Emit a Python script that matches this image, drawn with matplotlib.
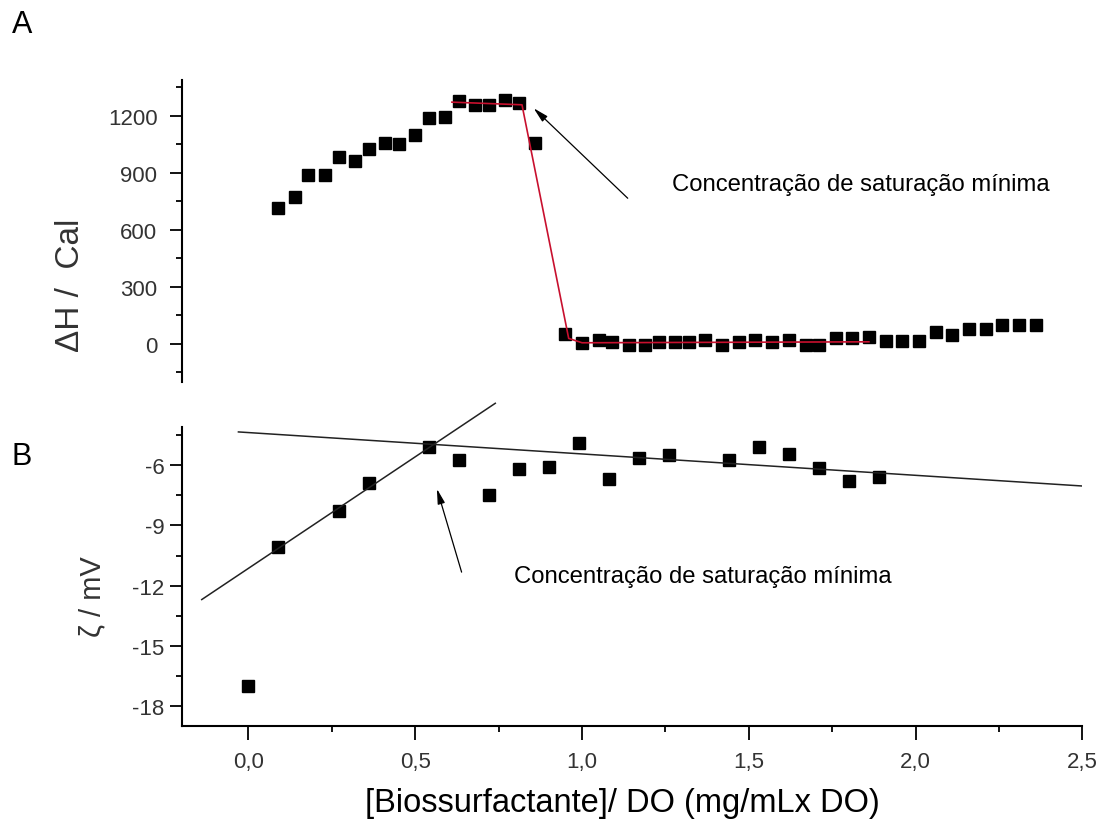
import numpy as np
import matplotlib.pyplot as plt
from matplotlib.ticker import MultipleLocator

plt.rcParams['font.family'] = ['Liberation Sans', 'DejaVu Sans']
plt.rcParams['axes.unicode_minus'] = False

# painel A: calor de adsorcao
xA = [0.09, 0.14, 0.18, 0.23, 0.27, 0.32, 0.36, 0.41, 0.45, 0.50, 0.54, 0.59,
      0.63, 0.68, 0.72, 0.77, 0.81, 0.86,
      0.95, 1.00, 1.05, 1.09, 1.14, 1.19, 1.23, 1.28, 1.32, 1.37, 1.42, 1.47,
      1.52, 1.57, 1.62, 1.67, 1.71, 1.76, 1.81, 1.86, 1.91, 1.96, 2.01, 2.06,
      2.11, 2.16, 2.21, 2.26, 2.31, 2.36]
dH = [713, 771, 889, 889, 983, 962, 1023, 1059, 1050, 1101, 1186, 1195,
      1279, 1256, 1256, 1283, 1270, 1059,
      50, 5, 18, 8, -6, -6, 9, 9, 9, 22, -6, 8,
      22, 9, 22, -8, -8, 28, 30, 38, 15, 15, 15, 62,
      48, 79, 79, 101, 99, 101]
xfitA = [0.61, 0.82, 0.96, 1.00, 1.86]
yfitA = [1272, 1258, 28, 5, 10]

# painel B: potencial zeta
xB = [0.0, 0.09, 0.27, 0.36, 0.54, 0.63, 0.72, 0.81, 0.90, 0.99, 1.08, 1.17,
      1.26, 1.44, 1.53, 1.62, 1.71, 1.80, 1.89]
zeta = [-17.0, -10.1, -8.3, -6.9, -5.1, -5.75, -7.5, -6.2, -6.1, -4.9, -6.7,
        -5.65, -5.5, -5.75, -5.1, -5.45, -6.15, -6.8, -6.6]
xreta1 = [-0.14, 0.74]
yreta1 = [-12.7, -2.9]
xreta2 = [-0.03, 2.5]
yreta2 = [-4.33, -7.03]

xticks = [0.0, 0.5, 1.0, 1.5, 2.0, 2.5]
xticklabels = ['0,0', '0,5', '1,0', '1,5', '2,0', '2,5']
texto = 'Concentração de saturação mínima'

fig = plt.figure(figsize=(11, 8.28), dpi=100)
ax1 = fig.add_axes([0.1652, 0.5378, 0.8188, 0.3647])
ax2 = fig.add_axes([0.1652, 0.1223, 0.8188, 0.3604])

seta = dict(arrowstyle='-|>,head_length=0.9,head_width=0.22', color='k',
            lw=0.9, shrinkA=0, shrinkB=0)

# ---- A
ax1.plot(xA, dH, 's', color='k', ms=8.5)
ax1.plot(xfitA, yfitA, '-', color='#c8102e', lw=1.2)
ax1.set_xlim(-0.2, 2.5)
ax1.set_ylim(-200, 1390)
ax1.set_yticks([0, 300, 600, 900, 1200])
ax1.yaxis.set_minor_locator(MultipleLocator(150))
for s in ['top', 'right', 'bottom']:
    ax1.spines[s].set_visible(False)
ax1.spines['left'].set_linewidth(1.5)
ax1.set_xticks([])
ax1.tick_params(axis='y', which='major', direction='out', length=8.5,
                width=1.3, pad=9, labelsize=16, labelcolor='#333333')
ax1.tick_params(axis='y', which='minor', direction='out', length=4.5, width=1.3)
ax1.set_ylabel('ΔH /  Cal', fontsize=24, color='#333333', va='center')
ax1.yaxis.set_label_coords(-0.124, 0.3235)
ax1.annotate('', xy=(0.855, 1240), xytext=(1.137, 766), arrowprops=seta)
ax1.text(1.27, 842, texto, fontsize=17.2, ha='left', va='center')

# ---- B
ax2.plot(xB, zeta, 's', color='k', ms=8.5)
ax2.plot(xreta1, yreta1, '-', color='#222222', lw=1.1, clip_on=False)
ax2.plot(xreta2, yreta2, '-', color='#222222', lw=1.1)
ax2.set_xlim(-0.2, 2.5)
ax2.set_ylim(-19, -4.1)
ax2.set_yticks([-18, -15, -12, -9, -6])
ax2.yaxis.set_minor_locator(MultipleLocator(1.5))
ax2.set_xticks(xticks)
ax2.set_xticklabels(xticklabels)
ax2.xaxis.set_minor_locator(MultipleLocator(0.25))
for s in ['top', 'right']:
    ax2.spines[s].set_visible(False)
ax2.spines['left'].set_linewidth(1.5)
ax2.spines['bottom'].set_linewidth(1.5)
ax2.tick_params(axis='y', which='major', direction='out', length=8.5,
                width=1.3, pad=4, labelsize=16, labelcolor='#333333')
ax2.tick_params(axis='x', which='major', direction='out', length=10,
                width=1.3, pad=8, labelsize=16, labelcolor='#333333')
ax2.tick_params(which='minor', direction='out', length=4.5, width=1.3)
ax2.set_ylabel('ζ / mV', fontsize=21, color='#333333', va='center')
ax2.yaxis.set_label_coords(-0.0996, 0.4347)
ax2.set_xlabel('[Biossurfactante]/ DO (mg/mLx DO)', fontsize=23.5, va='center')
ax2.xaxis.set_label_coords(0.489, -0.256)
ax2.annotate('', xy=(0.565, -7.17), xytext=(0.639, -11.33), arrowprops=seta)
ax2.text(0.796, -11.5, texto, fontsize=17.2, ha='left', va='center')

fig.text(22 / 1100, 1 - 25 / 828, 'A', fontsize=22, ha='center', va='center')
fig.text(22 / 1100, 1 - 457 / 828, 'B', fontsize=22, ha='center', va='center')

fig.savefig('out.png', dpi=100)
